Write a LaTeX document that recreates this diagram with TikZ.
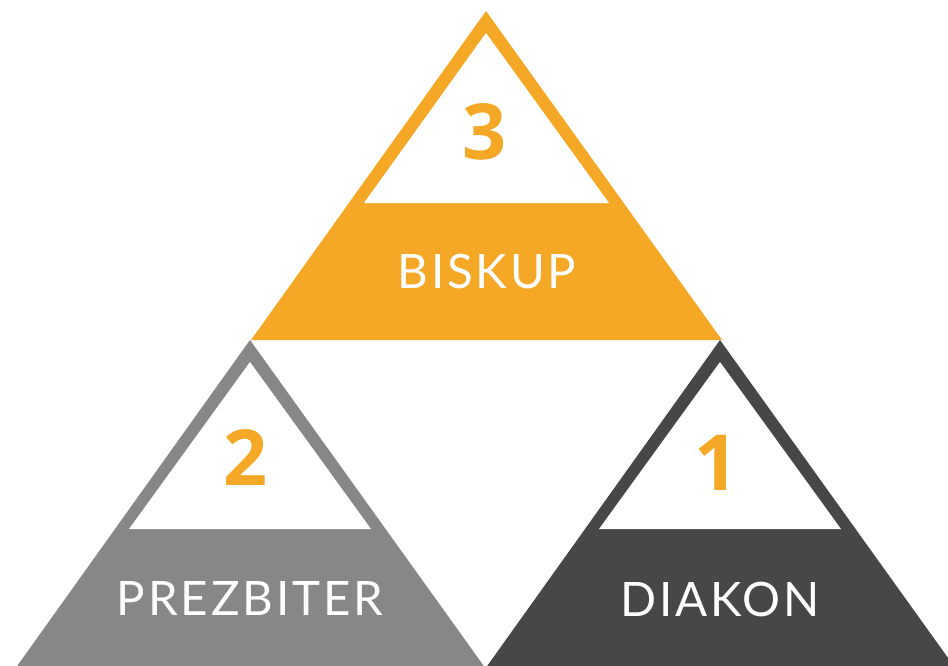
\documentclass[tikz,border=0pt]{standalone}
\usepackage{fontspec}
\newfontfamily\labelfont[LetterSpace=6]{Lato}
\newfontfamily\numfont{Open Sans}
\definecolor{ordorange}{HTML}{F4A825}
\definecolor{ordgray}{HTML}{878787}
\definecolor{orddark}{HTML}{474747}
\begin{document}
\begin{tikzpicture}[x=0.02cm,y=-0.02cm]
\tikzstyle{every node}+=[inner sep=0pt]
\tikzstyle{rank}=[text=ordorange, font=\numfont\bfseries\fontsize{44}{44}\selectfont]
\tikzstyle{office}=[text=white, font=\labelfont\fontsize{27}{27}\selectfont]
\clip (0,0) rectangle (948,666);
% top: biskup
\fill [ordorange] (486,11) -- (722,340) -- (251,340) -- cycle;
\fill [white] (486,33) -- (609,203) -- (364,203) -- cycle;
\node [rank] (three) at (485,132) {3};
\node [office] (biskup) at (487,272) {BISKUP};
% left: prezbiter
\fill [ordgray] (250,340) -- (486,669) -- (15,669) -- cycle;
\fill [white] (250,362) -- (371,529) -- (129,529) -- cycle;
\node [rank] (two) at (246,458) {2};
\node [office] (prezbiter) at (250,599) {PREZBITER};
% right: diakon
\fill [orddark] (720,340) -- (956,669) -- (485,669) -- cycle;
\fill [white] (720,362) -- (841,529) -- (599,529) -- cycle;
\node [rank] (one) at (717,463) {1};
\node [office] (diakon) at (720,599) {DIAKON};
\end{tikzpicture}
\end{document}
